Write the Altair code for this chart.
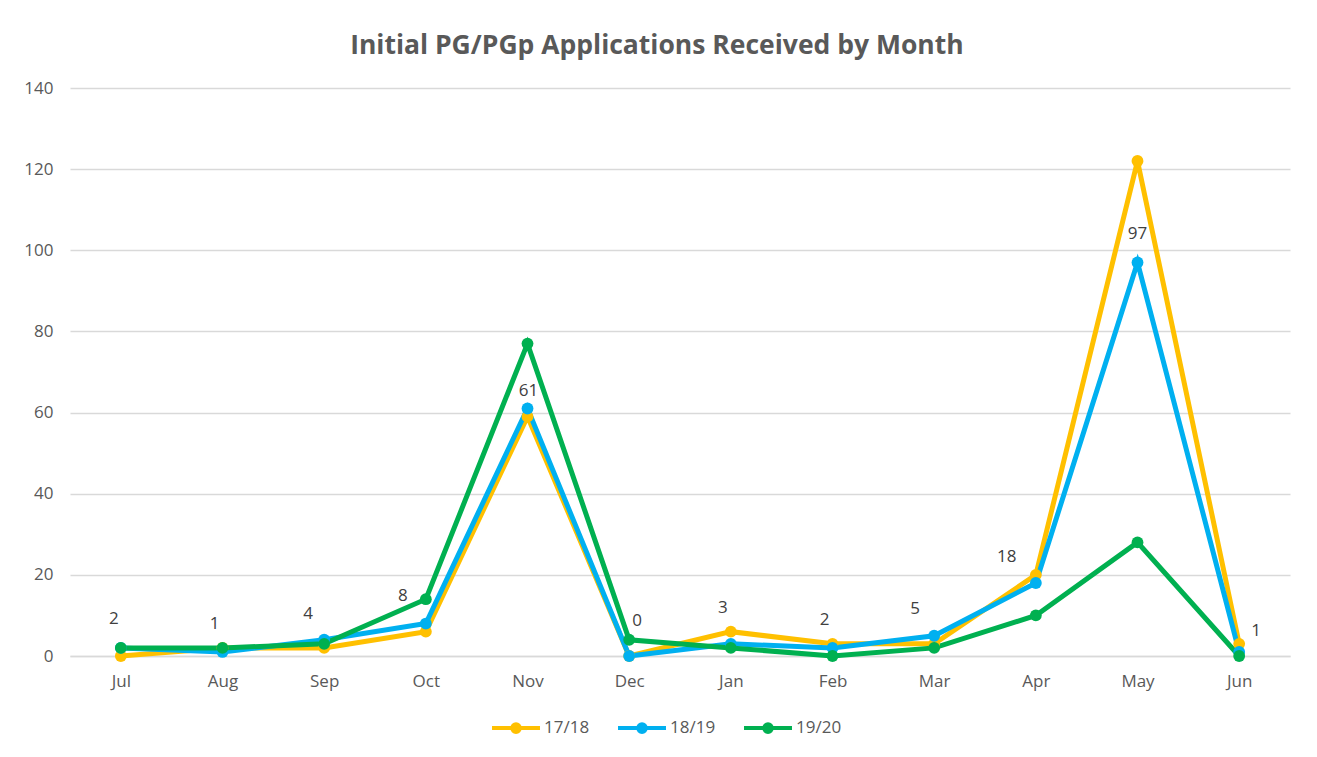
import altair as alt
import pandas as pd

months = ["Jul", "Aug", "Sep", "Oct", "Nov", "Dec", "Jan", "Feb", "Mar", "Apr", "May", "Jun"]
series_names = ["17/18", "18/19", "19/20"]
v1718 = [0, 2, 2, 6, 59, 0, 6, 3, 3, 20, 122, 3]
v1819 = [2, 1, 4, 8, 61, 0, 3, 2, 5, 18, 97, 1]
v1920 = [2, 2, 3, 14, 77, 4, 2, 0, 2, 10, 28, 0]
colors = ["#FFC000", "#00B0F0", "#00B050"]
y_ticks = [0, 20, 40, 60, 80, 100, 120, 140]
# data-label nudges (pixels) relative to each 18/19 point, as placed in the original
label_dx = [-7, -8, -16, -23, 1, 8, -8, -8, -19, -29, 0, 17]
label_dy = [-29, -28, -26, -28, -18, -35, -36, -28, -27, -26, -28, -21]

rows = []
for name, vals in zip(series_names, [v1718, v1819, v1920]):
    for i, (m, v) in enumerate(zip(months, vals)):
        rows.append({"Month": m, "Series": name, "Value": v, "order": i})
df = pd.DataFrame(rows)

FONT = "Open Sans"
GRAY = "#595959"

x_enc = alt.X("Month:N", sort=months, title=None,
              scale=alt.Scale(paddingOuter=0.5),
              axis=alt.Axis(labelAngle=0, ticks=False, domain=True, domainColor="#d9d9d9",
                            domainWidth=1.3,
                            labelPadding=17, labelFontSize=17, labelColor=GRAY, labelFont=FONT,
                            grid=False))
y_enc = alt.Y("Value:Q", title=None,
              scale=alt.Scale(domain=[0, 140], nice=False),
              axis=alt.Axis(values=y_ticks, ticks=False, domain=False, labelPadding=17,
                            labelFontSize=17, labelColor=GRAY, labelFont=FONT,
                            gridColor="#d9d9d9", gridWidth=1.3))
color_enc = alt.Color("Series:N", scale=alt.Scale(domain=series_names, range=colors),
                      legend=alt.Legend(orient="none", legendX=420, legendY=614,
                                        direction="horizontal", title=None,
                                        symbolType="M -1 0 L 1 0 M 0.16 0 A 0.16 0.16 0 1 1 -0.16 0 A 0.16 0.16 0 1 1 0.16 0 Z",
                                        symbolSize=2300, symbolStrokeWidth=4,
                                        labelFontSize=17, labelColor=GRAY, labelFont=FONT,
                                        columnPadding=20, labelOffset=2))

base = alt.Chart(df)
lines = base.mark_line(strokeWidth=5).encode(x=x_enc, y=y_enc, color=color_enc,
                                             order="order:Q")
points = base.mark_circle(size=140, opacity=1).encode(x=x_enc, y=y_enc, color=color_enc)

label_layers = []
for m, ddx, ddy in zip(months, label_dx, label_dy):
    label_layers.append(
        base.transform_filter((alt.datum.Series == "18/19") & (alt.datum.Month == m))
        .mark_text(fontSize=17, color="#404040", font=FONT, baseline="middle", dx=ddx, dy=ddy)
        .encode(x=x_enc, y=y_enc, text="Value:Q")
    )

chart = alt.layer(lines, points, *label_layers).properties(
    width=1220, height=568,
    title=alt.TitleParams("Initial PG/PGp  Applications Received by Month", fontSize=26.5,
                          font=FONT, fontWeight="bold", color=GRAY, offset=20,
                          frame="bounds", anchor="middle"),
    padding={"left": 15, "top": 24, "right": 10, "bottom": 10},
).configure(background="white", view=alt.ViewConfig(stroke=None))

chart.save("out.html", embed_options={"renderer": "svg", "actions": False})
